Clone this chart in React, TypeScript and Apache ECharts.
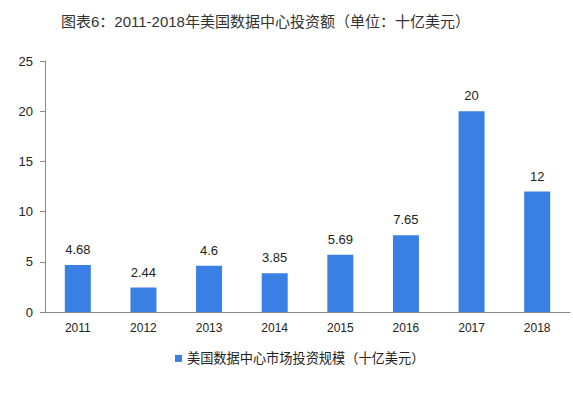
import React, { useEffect, useRef } from "react";
import * as echarts from "echarts";

const categories = ["2011", "2012", "2013", "2014", "2015", "2016", "2017", "2018"];
const values = [4.68, 2.44, 4.6, 3.85, 5.69, 7.65, 20, 12];
const seriesName = "美国数据中心市场投资规模（十亿美元）";
const titleText = "图表6：2011-2018年美国数据中心投资额（单位：十亿美元）";

export default function App() {
  const ref = useRef<HTMLDivElement>(null);
  useEffect(() => {
    if (!ref.current) return;
    const chart = echarts.init(ref.current, null, { renderer: "svg" });
    const font = "Arial, 'Liberation Sans', 'Noto Sans CJK SC', sans-serif";
    chart.setOption({
      animation: false,
      backgroundColor: "#ffffff",
      title: {
        text: titleText,
        left: 56,
        top: 9,
        textStyle: { fontSize: 15, fontWeight: "normal", color: "#333", fontFamily: font },
      },
      legend: {
        bottom: 23,
        left: 170,
        itemWidth: 7,
        itemHeight: 7,
        itemGap: 10,
        icon: "rect",
        textStyle: { fontSize: 13.2, color: "#222", fontFamily: font },
        data: [seriesName],
      },
      grid: { left: 45, right: 3, top: 61, bottom: 81 },
      xAxis: {
        type: "category",
        data: categories,
        axisLine: { lineStyle: { color: "#888" } },
        axisTick: { lineStyle: { color: "#888" }, length: 4 },
        axisLabel: { fontSize: 12, color: "#222", margin: 10, fontFamily: font },
      },
      yAxis: {
        type: "value",
        min: 0,
        max: 25,
        interval: 5,
        axisLine: { show: true, lineStyle: { color: "#888" } },
        axisTick: { show: true, length: 5, lineStyle: { color: "#888" } },
        splitLine: { show: false },
        axisLabel: { fontSize: 13, color: "#222", margin: 12, fontFamily: font },
      },
      series: [
        {
          name: seriesName,
          type: "bar",
          data: values,
          barWidth: 26,
          itemStyle: { color: "#3a7fe4" },
          label: {
            show: true,
            position: "top",
            distance: 9,
            fontSize: 13,
            color: "#222",
            fontFamily: font,
          },
        },
      ],
    });
    return () => chart.dispose();
  }, []);
  return <div ref={ref} style={{ width: 573, height: 393, position: "absolute", left: 0, top: 0 }} />;
}
